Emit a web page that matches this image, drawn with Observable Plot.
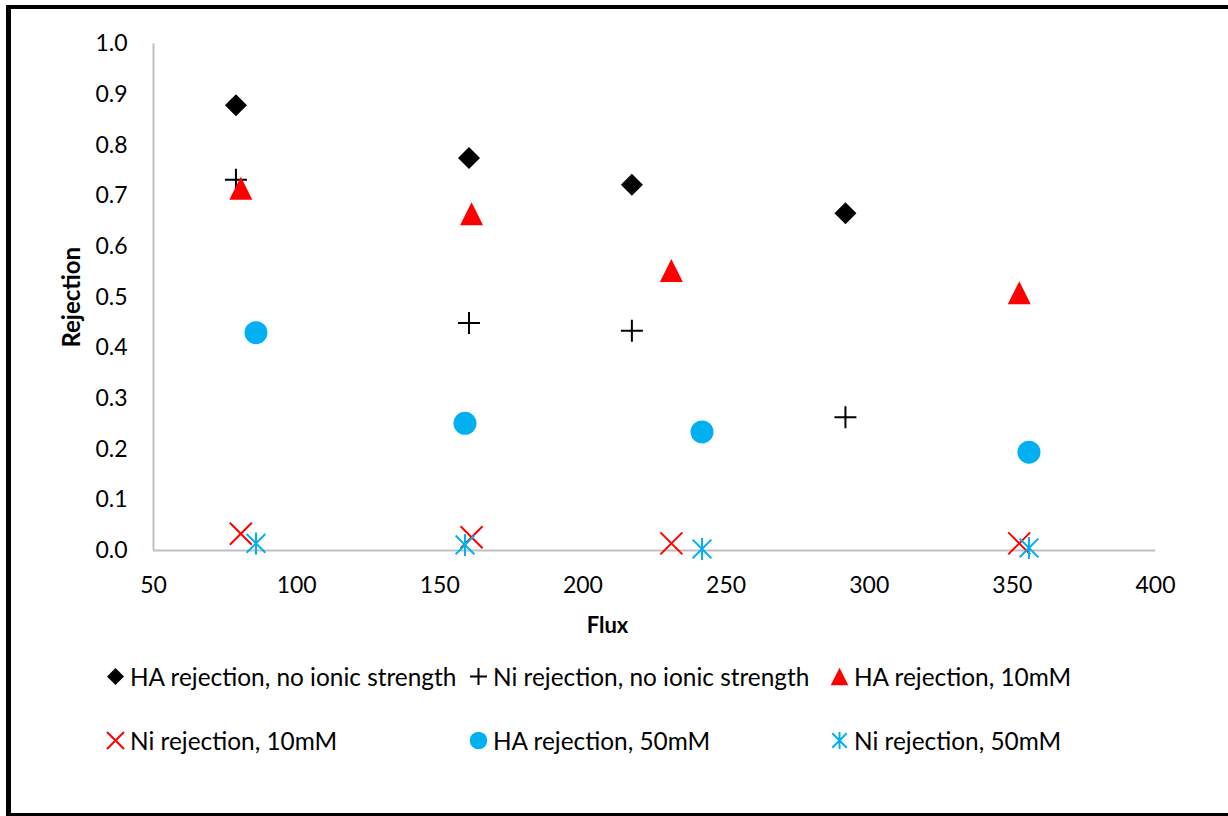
<!DOCTYPE html>
<html>
<head>
<meta charset="utf-8">
<script src="https://cdn.jsdelivr.net/npm/d3@7"></script>
<script src="https://cdn.jsdelivr.net/npm/@observablehq/plot@0.6"></script>
<style>
  html, body { margin: 0; padding: 0; overflow: hidden; background: #fff; width: 1228px; height: 816px; }
  #frame { position: absolute; left: 6px; top: 5px; width: 1240px; height: 804px;
           border-left: 5px solid #000; border-top: 4px solid #000; border-bottom: 3px solid #000; box-sizing: content-box; }
  #chart { position: absolute; left: 0; top: 0; }
  .leg { position: absolute; display: flex; align-items: center; font-family: Lato, "Open Sans", sans-serif; font-size: 24.4px; color: #000; white-space: nowrap; }
  .leg svg { margin-right: 6px; overflow: visible; }
</style>
</head>
<body>
<div id="frame"></div>
<div id="chart"></div>
<div id="legend"></div>
<script>
// ---- data ----
const xTicks = [50, 100, 150, 200, 250, 300, 350, 400];
const yTicks = [0, 0.1, 0.2, 0.3, 0.4, 0.5, 0.6, 0.7, 0.8, 0.9, 1.0];

const fluxNoIonic = [78.8, 160.2, 217.1, 291.7];
const haNoIonic   = [0.879, 0.775, 0.722, 0.666];
const niNoIonic   = [0.732, 0.449, 0.434, 0.263];

const flux10mM = [80.5, 161.1, 230.9, 352.4];
const ha10mM   = [0.715, 0.665, 0.553, 0.509];
const ni10mM   = [0.033, 0.026, 0.014, 0.014];

const flux50mM = [85.8, 158.8, 241.6, 355.8];
const ha50mM   = [0.430, 0.251, 0.234, 0.194];
const ni50mM   = [0.014, 0.011, 0.003, 0.005];

const seriesNames = [
  "HA rejection, no ionic strength",
  "Ni rejection, no ionic strength",
  "HA rejection, 10mM",
  "Ni rejection, 10mM",
  "HA rejection, 50mM",
  "Ni rejection, 50mM"
];

// ---- custom Excel-like symbols ----
const rad = s => Math.sqrt(s / Math.PI);
const symDiamond = { draw(c, s) { const r = rad(s); c.moveTo(0, -r); c.lineTo(r, 0); c.lineTo(0, r); c.lineTo(-r, 0); c.closePath(); } };
const symTriangle = { draw(c, s) { const r = rad(s); c.moveTo(0, -r); c.lineTo(r, r); c.lineTo(-r, r); c.closePath(); } };
const symCircle = { draw(c, s) { const r = rad(s); c.moveTo(r, 0); c.arc(0, 0, r, 0, 2 * Math.PI); } };
const symPlus = { draw(c, s) { const r = rad(s); c.moveTo(-r, 0); c.lineTo(r, 0); c.moveTo(0, -r); c.lineTo(0, r); } };
const symTimes = { draw(c, s) { const r = rad(s); c.moveTo(-r, -r); c.lineTo(r, r); c.moveTo(r, -r); c.lineTo(-r, r); } };
const symStar = { draw(c, s) { const r = rad(s); const d = r * 0.85; c.moveTo(-d, -d); c.lineTo(d, d); c.moveTo(d, -d); c.lineTo(-d, d); c.moveTo(0, -r); c.lineTo(0, r); } };

const styles = [
  { sym: symDiamond,  fill: "#000000", stroke: "none",    r: 11 },
  { sym: symPlus,     fill: "none",    stroke: "#000000", r: 11 },
  { sym: symTriangle, fill: "#FF0000", stroke: "none",    r: 11.5 },
  { sym: symTimes,    fill: "none",    stroke: "#FF0000", r: 11 },
  { sym: symCircle,   fill: "#00B0F0", stroke: "none",    r: 11.5 },
  { sym: symStar,     fill: "none",    stroke: "#00B0F0", r: 11 }
];

const seriesData = [
  [fluxNoIonic, haNoIonic],
  [fluxNoIonic, niNoIonic],
  [flux10mM, ha10mM],
  [flux10mM, ni10mM],
  [flux50mM, ha50mM],
  [flux50mM, ni50mM]
].map(([xs, ys]) => xs.map((x, i) => ({ x, y: ys[i] })));

const font = "Lato, 'Open Sans', sans-serif";
const axisColor = "#BFBFBF";

const dotMarks = seriesData.map((d, i) => Plot.dot(d, {
  x: "x", y: "y", symbol: styles[i].sym, r: styles[i].r,
  fill: styles[i].fill, stroke: styles[i].stroke,
  strokeWidth: styles[i].stroke === "none" ? 0 : 2
}));

const chart = Plot.plot({
  width: 1228,
  height: 640,
  marginLeft: 153,
  marginRight: 73,
  marginTop: 43.5,
  marginBottom: 90,
  style: { fontFamily: font, fontSize: "23px", color: "#000", background: "transparent", overflow: "visible" },
  x: { domain: [50, 400], ticks: xTicks, label: null },
  y: { domain: [0, 1], ticks: yTicks, label: null },
  marks: [
    Plot.axisX({ ticks: xTicks, tickSize: 0, tickPadding: 26, tickFormat: d => String(d), fontSize: 23, label: null }),
    Plot.axisY({ ticks: yTicks, tickSize: 0, tickPadding: 26, tickFormat: d3.format(".1f"), fontSize: 23, label: null }),
    Plot.ruleX([50], { stroke: axisColor, strokeWidth: 2 }),
    Plot.ruleY([0], { stroke: axisColor, strokeWidth: 2 }),
    Plot.text(["Flux"], { frameAnchor: "bottom", dx: -47, dy: 82, fontWeight: "bold", fontSize: 22 }),
    Plot.text(["Rejection"], { frameAnchor: "left", textAnchor: "middle", rotate: -90, dx: -81, fontWeight: "bold", fontSize: 24 }),
    ...dotMarks
  ]
});
document.getElementById("chart").appendChild(chart);

// ---- legend (HTML, below the svg) ----
const legCols = [107, 470, 831];
const legRows = [677, 741];
const legend = document.getElementById("legend");
seriesNames.forEach((name, i) => {
  const item = document.createElement("div");
  item.className = "leg";
  item.style.left = legCols[i % 3] + "px";
  item.style.top = (legRows[Math.floor(i / 3)] - 16) + "px";
  item.style.height = "30px";
  const st = styles[i];
  const svg = d3.create("svg").attr("width", 17).attr("height", 17).attr("viewBox", "-8.5 -8.5 17 17");
  const r = st.sym === symTriangle || st.sym === symCircle ? 8.8 : 8.5;
  const p = d3.path();
  st.sym.draw(p, r * r * Math.PI);
  svg.append("path").attr("d", p.toString())
    .attr("fill", st.fill).attr("stroke", st.stroke)
    .attr("stroke-width", st.stroke === "none" ? 0 : 2);
  item.appendChild(svg.node());
  const span = document.createElement("span");
  span.textContent = name;
  item.appendChild(span);
  legend.appendChild(item);
});
</script>
</body>
</html>
